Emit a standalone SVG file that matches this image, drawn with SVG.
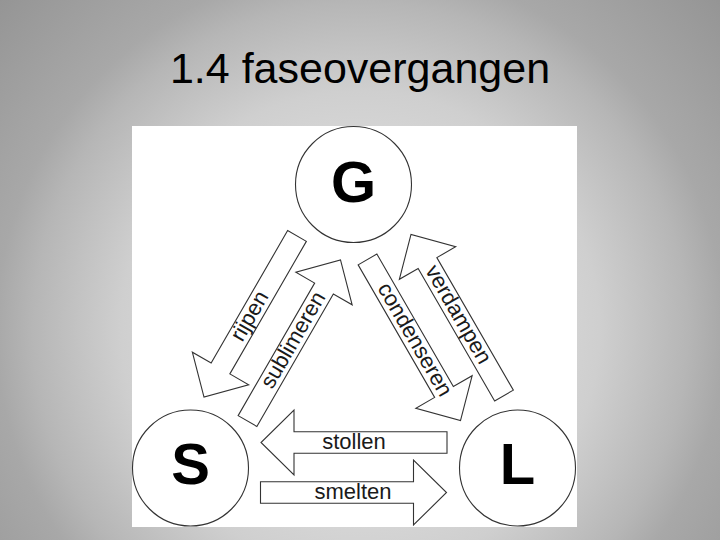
<svg xmlns="http://www.w3.org/2000/svg" width="720" height="540" viewBox="0 0 720 540">
  <defs>
    <radialGradient id="bg" gradientUnits="userSpaceOnUse" cx="360" cy="330" r="520">
      <stop offset="0" stop-color="#eeeeee"/>
      <stop offset="0.46" stop-color="#cfcfcf"/>
      <stop offset="0.63" stop-color="#b6b6b6"/>
      <stop offset="0.70" stop-color="#a8a8a8"/>
      <stop offset="1" stop-color="#909090"/>
    </radialGradient>
    <polygon id="arrow" points="-93,-10.8 60,-10.8 60,-32.5 93,0 60,32.5 60,10.8 -93,10.8"/>
  </defs>
  <style>
    .arrow { fill: #ffffff; stroke: #333333; stroke-width: 1.1; stroke-linejoin: miter; }
    .lbl { font-family: "Liberation Sans", Arial, sans-serif; font-size: 22px; fill: #1a1a1a; text-anchor: middle; }
    .phase { fill: #ffffff; stroke: #333333; stroke-width: 1.1; }
    .big { font-family: "Liberation Sans", Arial, sans-serif; font-weight: bold; font-size: 58px; fill: #000000; text-anchor: middle; }
    .title { font-family: "Liberation Sans", Arial, sans-serif; font-size: 43px; fill: #000000; text-anchor: middle; }
  </style>

  <rect x="0" y="0" width="720" height="540" fill="url(#bg)"/>
  <text class="title" x="360" y="83">1.4 faseovergangen</text>

  <rect x="132" y="126" width="445" height="401" fill="#ffffff"/>

  <g id="G">
    <circle class="phase" cx="353.5" cy="184.5" r="58"/>
    <text class="big" x="353.5" y="202">G</text>
  </g>
  <g id="S">
    <circle class="phase" cx="190.5" cy="468" r="58"/>
    <text class="big" x="190.5" y="483.5">S</text>
  </g>
  <g id="L">
    <circle class="phase" cx="517.5" cy="468" r="58"/>
    <text class="big" x="517.5" y="483.5">L</text>
  </g>

  <g id="connectors">
    <g id="rijpen">
      <use href="#arrow" class="arrow" transform="translate(250.5,316.5) rotate(120)"/>
      <text class="lbl" transform="translate(250.5,316.5) rotate(-60)" x="0" y="6">rijpen</text>
    </g>
    <g id="sublimeren">
      <use href="#arrow" class="arrow" transform="translate(294,340.5) rotate(-60)"/>
      <text class="lbl" transform="translate(294,340.5) rotate(-60)" x="0" y="6">sublimeren</text>
    </g>
    <g id="condenseren">
      <use href="#arrow" class="arrow" transform="translate(414,340) rotate(60)"/>
      <text class="lbl" transform="translate(414,340) rotate(60)" x="0" y="6">condenseren</text>
    </g>
    <g id="verdampen">
      <use href="#arrow" class="arrow" transform="translate(457.5,315) rotate(-120)"/>
      <text class="lbl" transform="translate(457.5,315) rotate(60)" x="0" y="6">verdampen</text>
    </g>
    <g id="stollen">
      <use href="#arrow" class="arrow" transform="translate(354,442.5) rotate(180)"/>
      <text class="lbl" x="354" y="448.5">stollen</text>
    </g>
    <g id="smelten">
      <use href="#arrow" class="arrow" transform="translate(353.5,492.5)"/>
      <text class="lbl" x="353" y="499">smelten</text>
    </g>
  </g>
</svg>
